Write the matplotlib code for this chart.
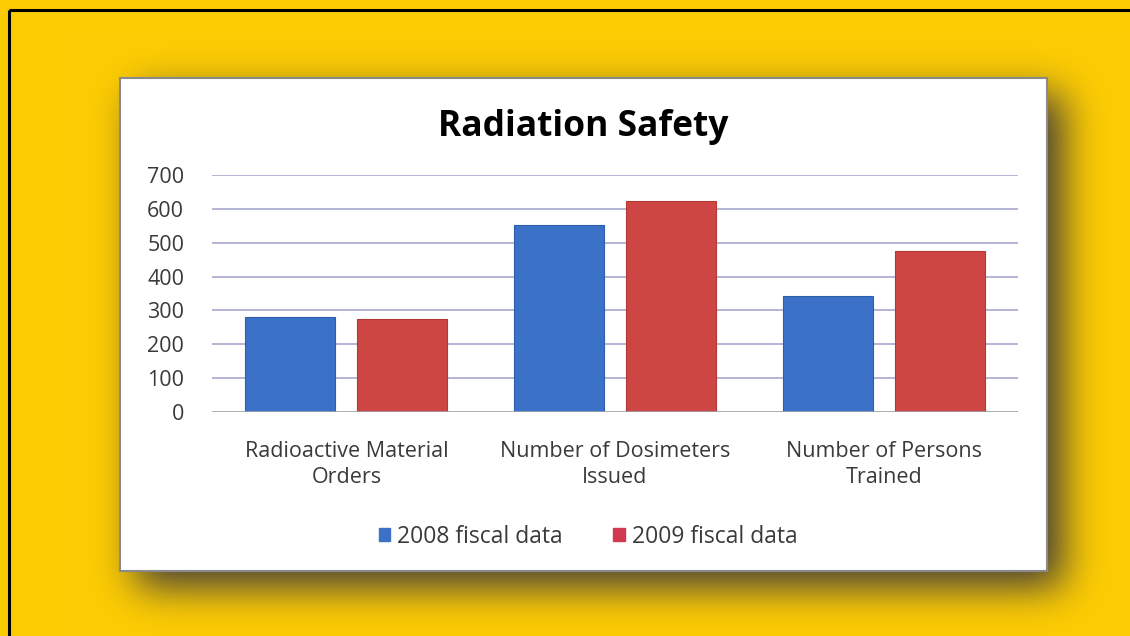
import numpy as np
import matplotlib
matplotlib.use("Agg")
import matplotlib.pyplot as plt
from matplotlib.patches import Rectangle

# ---- data ----
categories = ["Radioactive Material\nOrders", "Number of Dosimeters\nIssued", "Number of Persons\nTrained"]
series_names = ["2008 fiscal data", "2009 fiscal data"]
values_2008 = [281, 552, 342]
values_2009 = [275, 622, 475]
y_ticks = [0, 100, 200, 300, 400, 500, 600, 700]
title = "Radiation Safety"

W, H = 1130, 636
FONT = ["Open Sans", "DejaVu Sans"]
plt.rcParams['font.family'] = FONT

fig = plt.figure(figsize=(W / 100, H / 100), dpi=100)

# ---- background with drop shadow ----
px_l, px_r, px_t, px_b = 120, 1047, 78, 571
yellow = np.array([0.992, 0.800, 0.012])
mask = np.zeros((H, W))
off = 16
mask[px_t + off:px_b + off, px_l + off:px_r + off] = 1.0
sigma = 20
k = np.arange(-3 * sigma, 3 * sigma + 1)
g = np.exp(-k ** 2 / (2 * sigma ** 2)); g /= g.sum()
mask = np.apply_along_axis(lambda r: np.convolve(r, g, mode="same"), 1, mask)
mask = np.apply_along_axis(lambda c: np.convolve(c, g, mode="same"), 0, mask)
shadow_col = np.array([0.40, 0.35, 0.18])
a = np.clip(1.25 * mask, 0, 1)[:, :, None]
img = yellow[None, None, :] * (1 - a) + shadow_col[None, None, :] * a
bg = fig.add_axes([0, 0, 1, 1])
bg.imshow(img, extent=(0, W, H, 0), aspect="auto", interpolation="bilinear")
bg.set_xlim(0, W); bg.set_ylim(H, 0)
bg.axis("off")
bg.add_patch(Rectangle((px_l, px_t), px_r - px_l, px_b - px_t, facecolor="white",
                       edgecolor="#8a8a8a", linewidth=1.5))
bg.plot([9, W], [10, 10], color="black", lw=2.2, solid_capstyle="butt")
bg.plot([9, 9], [10, H], color="black", lw=2.2, solid_capstyle="butt")

# title
bg.text(583, 127, title, ha="center", va="center", fontsize=25.5, fontweight="bold",
        color="black", family=FONT)

# ---- main axes ----
ax_l, ax_r, ax_t, ax_b = 212, 1018, 175, 412
ax = fig.add_axes([ax_l / W, 1 - ax_b / H, (ax_r - ax_l) / W, (ax_b - ax_t) / H])
ax.patch.set_alpha(0)
x = np.arange(len(categories))
bw = 0.335
d = 0.208
c08, c09 = "#3B72C8", "#CE4644"
ax.bar(x - d, values_2008, bw, color=c08, edgecolor="#2f5ea8", linewidth=0.8, zorder=3,
       label=series_names[0])
ax.bar(x + d, values_2009, bw, color=c09, edgecolor="#b03836", linewidth=0.8, zorder=3,
       label=series_names[1])
ax.set_xlim(-0.5, 2.5)
ax.set_ylim(0, 700)
ax.set_yticks(y_ticks)
for t in y_ticks[1:]:
    ax.axhline(t, color="#b4b4d6", lw=1.4, zorder=1)
ax.axhline(0, color="#a0a0a0", lw=1.2, zorder=4)
for s in ax.spines.values():
    s.set_visible(False)
ax.tick_params(axis="both", length=0, labelsize=15.5, labelcolor="#3a3a3a")
ax.tick_params(axis="y", pad=20)
ax.set_xticks(x)
ax.set_xticklabels(categories, linespacing=1.32)
ax.tick_params(axis="x", pad=21)

handles = [Rectangle((0, 0), 1, 1, color=c08), Rectangle((0, 0), 1, 1, color="#D0394F")]
fig.legend(handles, series_names, loc="center", bbox_to_anchor=(588 / W, 1 - 537 / H),
           ncol=2, frameon=False, fontsize=16.5, handlelength=0.5, handleheight=0.5,
           handletextpad=0.3, columnspacing=2.2, labelcolor="#3a3a3a")

fig.savefig("out.png", dpi=100)
